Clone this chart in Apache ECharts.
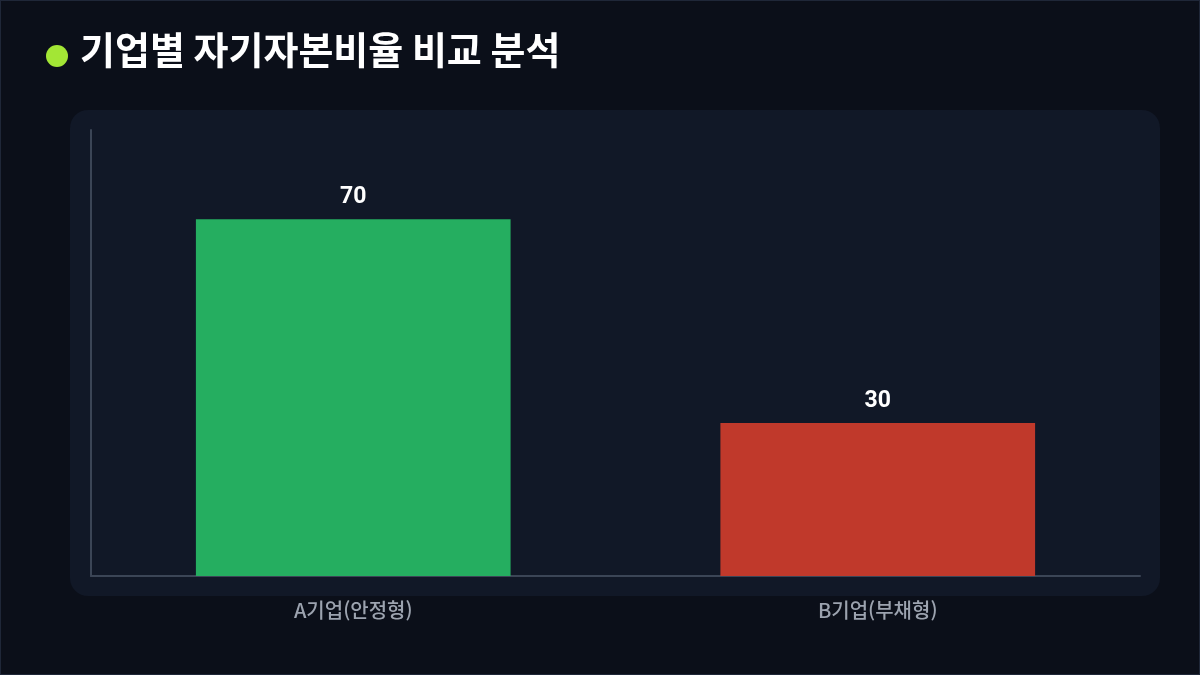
<!DOCTYPE html>
<html lang="ko">
<head>
<meta charset="utf-8">
<title>기업별 자기자본비율 비교 분석</title>
<script src="https://cdn.jsdelivr.net/npm/echarts@6.0.0/dist/echarts.min.js"></script>
<style>
  html, body { margin: 0; padding: 0; background: #0b0f19; }
  #main { width: 1200px; height: 675px; box-sizing: border-box; border: 1px solid #1f2738; }
</style>
</head>
<body>
<div id="main"></div>
<script>
// 자기자본비율 데이터
const categories = ['A기업(안정형)', 'B기업(부채형)'];
const equityRatio = [70, 30];
const barColors = ['#25ae60', '#c0392b'];

const chart = echarts.init(document.getElementById('main'));

const option = {
  backgroundColor: '#0b0f19',
  title: {
    text: '기업별 자기자본비율 비교 분석',
    left: 74,
    top: 25,
    textStyle: {
      color: '#ffffff',
      fontSize: 38,
      fontWeight: 'bold',
      fontFamily: '"Noto Sans CJK KR", sans-serif'
    }
  },
  graphic: [
    {
      type: 'circle',
      shape: { cx: 56, cy: 55, r: 11 },
      style: { fill: '#a3e635' },
      z: 10
    },
    {
      type: 'rect',
      shape: { x: 69, y: 109, width: 1090, height: 486, r: 18 },
      style: { fill: '#111827' },
      z: -10
    }
  ],
  grid: { left: 90, right: 59, top: 129, bottom: 98 },
  xAxis: {
    type: 'category',
    data: categories,
    axisLine: { lineStyle: { color: '#3b4556', width: 2 } },
    axisTick: { show: false },
    axisLabel: {
      color: '#9ca3af',
      fontSize: 20,
      fontWeight: 500,
      margin: 24,
      fontFamily: '"Noto Sans CJK KR", sans-serif'
    }
  },
  yAxis: {
    type: 'value',
    min: 0,
    max: 87.5,
    axisLine: { show: true, lineStyle: { color: '#3b4556', width: 2 } },
    axisTick: { show: false },
    axisLabel: { show: false },
    splitLine: { show: false }
  },
  series: [
    {
      type: 'bar',
      barWidth: '60%',
      data: equityRatio.map((v, i) => ({ value: v, itemStyle: { color: barColors[i] } })),
      label: {
        show: true,
        position: 'top',
        distance: 10,
        color: '#ffffff',
        fontSize: 23,
        fontWeight: 'bold',
        fontFamily: 'Roboto, sans-serif'
      }
    }
  ]
};

chart.setOption(option);
window.addEventListener('resize', () => chart.resize());
</script>
</body>
</html>
